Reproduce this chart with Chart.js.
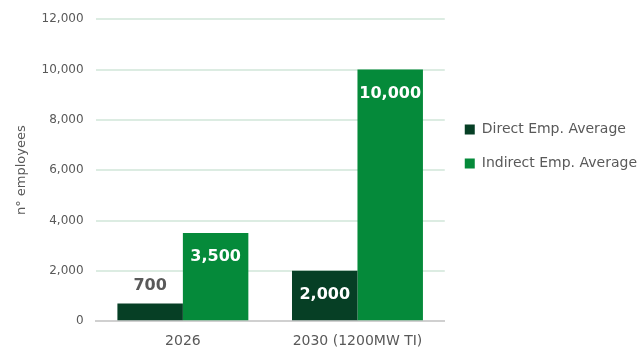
<!DOCTYPE html>
<html>
<head>
<meta charset="utf-8">
<script src="https://cdn.jsdelivr.net/npm/chart.js@4/dist/chart.umd.min.js"></script>
<style>
  html, body { margin: 0; padding: 0; background: #fff; }
  #wrap { width: 641px; height: 352px; }
</style>
</head>
<body>
<div id="wrap"><canvas id="grafico"></canvas></div>
<script>
const categorias = ['2026', '2030 (1200MW TI)'];
const diretos = [700, 2000];
const indiretos = [3500, 10000];
const ticksY = [0, 2000, 4000, 6000, 8000, 10000, 12000];

const FONTE = '"DejaVu Sans", sans-serif';
const CINZA = '#595959';

// rotulos dos valores nas barras (dentro no topo, ou acima se a barra for baixa)
const rotulosBarras = {
    id: 'rotulosBarras',
    afterDatasetsDraw(chart) {
        const ctx = chart.ctx;
        ctx.save();
        ctx.font = 'bold 16px ' + FONTE;
        ctx.textAlign = 'center';
        ctx.textBaseline = 'middle';
        chart.data.datasets.forEach((ds, i) => {
            chart.getDatasetMeta(i).data.forEach((bar, j) => {
                const texto = ds.data[j].toLocaleString('en-US');
                const altura = bar.base - bar.y;
                if (altura < 40) {
                    ctx.fillStyle = CINZA;
                    ctx.fillText(texto, bar.x, bar.y - 18);
                } else {
                    ctx.fillStyle = '#ffffff';
                    ctx.fillText(texto, bar.x, bar.y + 24);
                }
            });
        });
        ctx.restore();
    }
};

new Chart(document.getElementById('grafico'), {
    type: 'bar',
    data: {
        labels: categorias,
        datasets: [{
            label: 'Direct Emp. Average',
            data: diretos,
            backgroundColor: '#063f25',
            barPercentage: 1,
            categoryPercentage: 0.75
        }, {
            label: 'Indirect Emp. Average',
            data: indiretos,
            backgroundColor: '#058a3a',
            barPercentage: 1,
            categoryPercentage: 0.75
        }]
    },
    options: {
        responsive: true,
        maintainAspectRatio: false,
        animation: false,
        layout: { padding: { top: -2, left: 10, right: -6, bottom: -10 } },
        plugins: {
            legend: {
                position: 'right',
                align: 'start',
                maxWidth: 260,
                title: {
                    display: true,
                    text: '',
                    font: { size: 12 },
                    padding: { top: 90, bottom: 0 } // empurra a legenda para baixo
                },
                labels: {
                    boxWidth: 10,
                    boxHeight: 10,
                    padding: 20,
                    color: CINZA,
                    font: { family: FONTE, size: 14 }
                }
            },
            tooltip: { enabled: false }
        },
        scales: {
            x: {
                grid: { display: false, drawTicks: false },
                border: { color: '#d0d0d0', width: 2 },
                ticks: {
                    color: CINZA,
                    font: { family: FONTE, size: 14 },
                    padding: 12
                }
            },
            y: {
                min: 0,
                max: 12000,
                afterBuildTicks: axis => { axis.ticks = ticksY.map(v => ({ value: v })); },
                grid: {
                    color: ctx => ctx.tick && ctx.tick.value === 0 ? '#d0d0d0' : '#dcece2',
                    lineWidth: 2,
                    drawTicks: false
                },
                border: { display: false },
                ticks: {
                    color: CINZA,
                    padding: 12,
                    font: { family: FONTE, size: 12 },
                    callback: v => v.toLocaleString('en-US')
                },
                title: {
                    display: true,
                    text: 'n° employees',
                    color: CINZA,
                    font: { family: FONTE, size: 13 },
                    padding: { bottom: 0 }
                }
            }
        }
    },
    plugins: [rotulosBarras]
});
</script>
</body>
</html>
